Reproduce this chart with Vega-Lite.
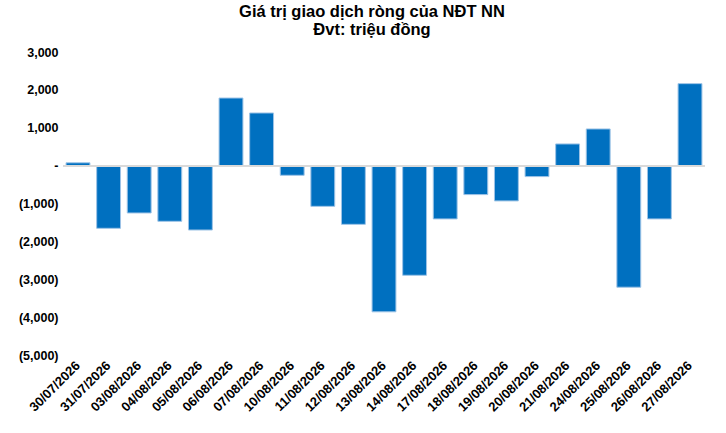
{
  "$schema": "https://vega.github.io/schema/vega-lite/v6.json",
  "width": 642,
  "height": 303,
  "autosize": "none",
  "padding": {"left": 63, "top": 52, "right": 21, "bottom": 78},
  "background": "#ffffff",
  "title": {
    "text": ["Giá trị giao dịch ròng của NĐT NN", "Đvt: triệu đồng"],
    "anchor": "middle",
    "fontSize": 16.5,
    "fontWeight": "bold",
    "font": "Liberation Sans",
    "color": "#000000",
    "lineHeight": 18,
    "offset": 8,
    "dx": -12
  },
  "data": {
    "values": [
      {"ngay": "30/07/2026", "gia_tri": 75},
      {"ngay": "31/07/2026", "gia_tri": -1655},
      {"ngay": "03/08/2026", "gia_tri": -1250},
      {"ngay": "04/08/2026", "gia_tri": -1470},
      {"ngay": "05/08/2026", "gia_tri": -1700},
      {"ngay": "06/08/2026", "gia_tri": 1785},
      {"ngay": "07/08/2026", "gia_tri": 1390},
      {"ngay": "10/08/2026", "gia_tri": -255},
      {"ngay": "11/08/2026", "gia_tri": -1075},
      {"ngay": "12/08/2026", "gia_tri": -1550},
      {"ngay": "13/08/2026", "gia_tri": -3860},
      {"ngay": "14/08/2026", "gia_tri": -2895},
      {"ngay": "17/08/2026", "gia_tri": -1407},
      {"ngay": "18/08/2026", "gia_tri": -765},
      {"ngay": "19/08/2026", "gia_tri": -932},
      {"ngay": "20/08/2026", "gia_tri": -290},
      {"ngay": "21/08/2026", "gia_tri": 572},
      {"ngay": "24/08/2026", "gia_tri": 968},
      {"ngay": "25/08/2026", "gia_tri": -3210},
      {"ngay": "26/08/2026", "gia_tri": -1407},
      {"ngay": "27/08/2026", "gia_tri": 2165}
    ]
  },
  "layer": [
    {
      "mark": {"type": "bar", "color": "#0070C0", "stroke": "#9DC3E6", "strokeWidth": 1},
      "encoding": {
        "x": {
          "field": "ngay", "type": "nominal", "sort": null, "title": null,
          "scale": {"paddingInner": 0.22, "paddingOuter": 0.1},
          "axis": {
            "labelAngle": -45, "labelAlign": "right", "labelBaseline": "middle",
            "labelFontSize": 13, "labelFontWeight": "bold", "labelPadding": 8,
            "labelOverlap": false,
            "ticks": false, "domain": false, "grid": false
          }
        },
        "y": {
          "field": "gia_tri", "type": "quantitative", "title": null,
          "scale": {"domain": [-5000, 3000], "nice": false},
          "axis": {
            "values": [3000, 2000, 1000, 0, -1000, -2000, -3000, -4000, -5000],
            "tickCount": 12,
            "labelExpr": "datum.value > 0 ? format(datum.value, ',') + '\u00a0' : (datum.value == 0 ? '-\u00a0\u00a0\u00a0\u00a0\u00a0\u00a0' : '(' + format(-datum.value, ',') + ')')",
            "labelFontSize": 12.5, "labelFontWeight": "bold", "labelPadding": 5,
            "labelOverlap": false,
            "ticks": false, "domain": false, "grid": false
          }
        }
      }
    },
    {
      "mark": {"type": "rule", "color": "#D9D9D9", "strokeWidth": 1.5},
      "encoding": {"y": {"datum": 0}}
    }
  ],
  "config": {
    "font": "Liberation Sans",
    "axis": {"labelColor": "#000000", "labelFont": "Liberation Sans"},
    "view": {"stroke": null}
  }
}
